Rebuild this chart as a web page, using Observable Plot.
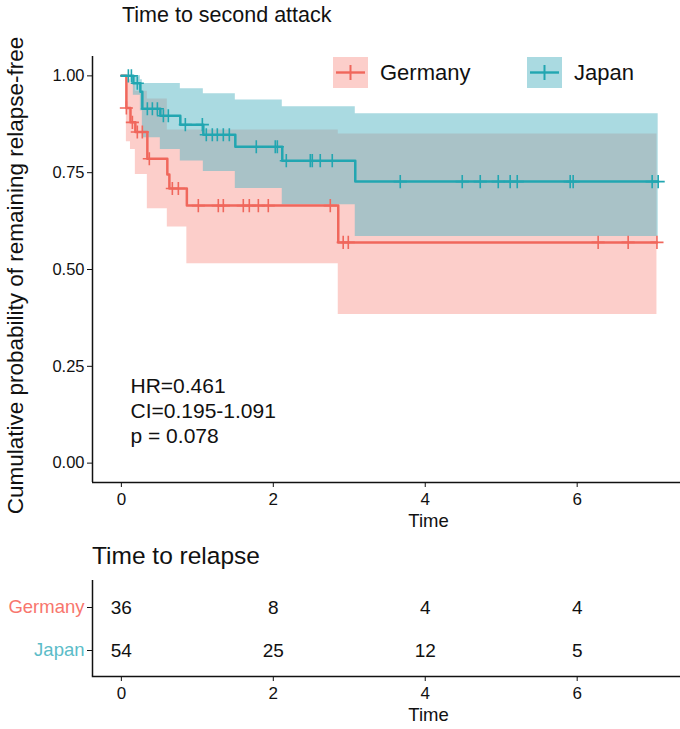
<!DOCTYPE html>
<html>
<head>
<meta charset="utf-8">
<script src="https://cdn.jsdelivr.net/npm/d3@7"></script>
<script src="https://cdn.jsdelivr.net/npm/@observablehq/plot@0.6"></script>
<style>
  html, body { margin: 0; padding: 0; background: #fff; }
  #wrap { position: relative; width: 680px; height: 729px; background: #fff; font-family: "Liberation Sans", Arial, sans-serif; color: #111; overflow: hidden; }
  .title { position: absolute; white-space: nowrap; }
  .legend { position: absolute; display: flex; align-items: center; font-size: 22px; }
  .legend svg { margin-right: 12px; }
  #main { position: absolute; left: 0; top: 30px; }
  #risk { position: absolute; left: 0; top: 578px; }
</style>
</head>
<body>
<div id="wrap">
  <div class="title" style="left:122px; top:3px; font-size:21.5px;">Time to second attack</div>
  <div id="main"></div>
  <div class="title" style="left:92px; top:542px; font-size:24.5px;">Time to relapse</div>
  <div id="risk"></div>
  <div id="legend"></div>
</div>
<script>
// ---- data ----
const groups = ["Germany", "Japan"];
const groupColors = ["#F0675C", "#22A6B1"];
const bandColors = ["#F8766D", "#55B5C3"];
const bandOpacity = [0.36, 0.5];
const labelColors = ["#F8766D", "#5BBCC8"];

const germanyTime  = [0, 0.066, 0.12, 0.184, 0.342, 0.605, 0.632, 0.862, 2.855, 7.05];
const germanySurv  = [1, 0.917, 0.88, 0.855, 0.786, 0.745, 0.709, 0.665, 0.57, 0.57];
const germanyLower = [1, 0.83, 0.81, 0.745, 0.657, 0.61, 0.61, 0.515, 0.384, 0.384];
const germanyUpper = [1, 0.99, 0.98, 0.96, 0.94, 0.86, 0.86, 0.86, 0.85, 0.85];
const germanyCensor = [0.066, 0.145, 0.21, 0.276, 0.368, 0.671, 0.75, 1.013, 1.276, 1.342, 1.605, 1.684, 1.803, 1.934, 2.75, 2.92, 2.987, 6.276, 6.671, 7.05];

const japanTime  = [0, 0.158, 0.25, 0.276, 0.513, 0.776, 1.079, 1.5, 2.118, 3.079, 7.066];
const japanSurv  = [1, 0.981, 0.959, 0.915, 0.897, 0.874, 0.848, 0.817, 0.781, 0.727, 0.727];
const japanLower = [1, 0.95, 0.91, 0.84, 0.81, 0.78, 0.753, 0.709, 0.667, 0.585, 0.585];
const japanUpper = [1, 1.0, 0.99, 0.98, 0.98, 0.967, 0.954, 0.938, 0.92, 0.902, 0.902];
const japanCensor = [0.092, 0.132, 0.21, 0.342, 0.408, 0.474, 0.553, 0.618, 0.842, 1.066, 1.118, 1.197, 1.263, 1.342, 1.421, 1.776, 2.026, 2.053, 2.171, 2.487, 2.513, 2.618, 2.776, 3.671, 4.487, 4.724, 4.961, 5.118, 5.211, 5.908, 5.947, 6.987, 7.066];

const statLines = ["HR=0.461", "CI=0.195-1.091", "p = 0.078"];

const riskTimes = [0, 2, 4, 6];
const germanyRisk = [36, 8, 4, 4];
const japanRisk = [54, 25, 12, 5];

const xTicks = [0, 2, 4, 6];
const yTicks = [0, 0.25, 0.5, 0.75, 1];
const xDomain = [-0.38, 7.36];
const yDomain = [-0.05, 1.05];

// ---- build tables ----
function steps(t, s, lo, hi) { return t.map((d, i) => ({t: d, s: s[i], lo: lo[i], hi: hi[i]})); }
const germany = steps(germanyTime, germanySurv, germanyLower, germanyUpper);
const japan = steps(japanTime, japanSurv, japanLower, japanUpper);
function survAt(tab, t) { let v = tab[0].s; for (const r of tab) if (r.t <= t) v = r.s; return v; }
const gCens = germanyCensor.map(t => ({t, s: survAt(germany, t)}));
const jCens = japanCensor.map(t => ({t, s: survAt(japan, t)}));

const font = '"Liberation Sans", Arial, sans-serif';

const main = Plot.plot({
  width: 680, height: 500,
  marginLeft: 92, marginRight: 0, marginTop: 26, marginBottom: 48,
  style: {fontFamily: font, fontSize: "16px", color: "#111", background: "transparent"},
  x: {domain: xDomain},
  y: {domain: yDomain},
  marks: [
    Plot.areaY(germany, {x: "t", y1: "lo", y2: "hi", curve: "step-after", fill: bandColors[0], fillOpacity: bandOpacity[0]}),
    Plot.areaY(japan, {x: "t", y1: "lo", y2: "hi", curve: "step-after", fill: bandColors[1], fillOpacity: bandOpacity[1]}),
    Plot.line(germany, {x: "t", y: "s", curve: "step-after", stroke: groupColors[0], strokeWidth: 2.5}),
    Plot.line(japan, {x: "t", y: "s", curve: "step-after", stroke: groupColors[1], strokeWidth: 2.5}),
    Plot.dot(gCens, {x: "t", y: "s", symbol: "plus", r: 4.3, stroke: groupColors[0], strokeWidth: 1.6}),
    Plot.dot(jCens, {x: "t", y: "s", symbol: "plus", r: 4.3, stroke: groupColors[1], strokeWidth: 1.6}),
    Plot.ruleX([xDomain[0]], {stroke: "#111", strokeWidth: 1.5}),
    Plot.ruleY([yDomain[0]], {stroke: "#111", strokeWidth: 1.5}),
    Plot.axisY({ticks: yTicks, tickFormat: d3.format(".2f"), tickSize: 5, tickPadding: 3, label: null, fontSize: 16.5, stroke: "#111", fill: "#111"}),
    Plot.axisX({ticks: xTicks, tickFormat: d => String(d), tickSize: 5, tickPadding: 5, label: null, fontSize: 17, stroke: "#111", fill: "#111"}),
    Plot.text(["Time"], {frameAnchor: "bottom", dx: 42, dy: 44, fontSize: 18.5, fill: "#111"}),
    Plot.text(["Cumulative probability of remaining relapse-free"], {frameAnchor: "left", textAnchor: "middle", dx: -77, dy: 6, rotate: -90, fontSize: 22.5, fill: "#111"}),
    Plot.text([statLines.join("\n")], {frameAnchor: "bottom-left", lineAnchor: "bottom", dx: 38, dy: -40, lineHeight: 1.19, textAnchor: "start", fontSize: 21, fill: "#111"})
  ]
});
document.getElementById("main").appendChild(main);

// ---- risk table ----
const riskRows = [];
riskTimes.forEach((t, i) => {
  riskRows.push({time: t, group: groups[0], n: germanyRisk[i]});
  riskRows.push({time: t, group: groups[1], n: japanRisk[i]});
});
const rowLabels = groups.map((g, i) => ({group: g, color: labelColors[i]}));

const risk = Plot.plot({
  width: 680, height: 151,
  marginLeft: 92, marginRight: 0, marginTop: 2, marginBottom: 53,
  style: {fontFamily: font, fontSize: "16px", color: "#111", background: "transparent"},
  x: {domain: xDomain},
  y: {type: "point", domain: groups, padding: 0.6},
  marks: [
    Plot.text(riskRows, {x: "time", y: "group", text: d => String(d.n), fontSize: 19, fill: "#111"}),
    Plot.ruleX([xDomain[0]], {stroke: "#111", strokeWidth: 1.5}),
    Plot.axisY({tickFormat: () => "", tickSize: 5, label: null, stroke: "#111"}),
    Plot.text(rowLabels, {y: "group", frameAnchor: "left", dx: -8, textAnchor: "end", text: "group", fill: "color", fontSize: 18.5}),
    Plot.axisX({ticks: xTicks, tickFormat: d => String(d), tickSize: 5, tickPadding: 5, label: null, fontSize: 17, stroke: "#111", fill: "#111"}),
    Plot.frame({anchor: "bottom", stroke: "#111", strokeWidth: 1.5}),
    Plot.text(["Time"], {frameAnchor: "bottom", dx: 42, dy: 44, fontSize: 18.5, fill: "#111"})
  ]
});
document.getElementById("risk").appendChild(risk);

// ---- legend ----
const legendPos = [{left: 333, top: 57}, {left: 527, top: 57}];
const legend = document.getElementById("legend");
groups.forEach((g, i) => {
  const div = document.createElement("div");
  div.className = "legend";
  div.style.left = legendPos[i].left + "px";
  div.style.top = legendPos[i].top + "px";
  div.innerHTML = `<svg width="35" height="31"><rect width="35" height="31" fill="${bandColors[i]}" fill-opacity="${bandOpacity[i]}"/>
    <line x1="3" x2="32" y1="15.5" y2="15.5" stroke="${groupColors[i]}" stroke-width="2.4"/>
    <line x1="17.5" x2="17.5" y1="8" y2="23" stroke="${groupColors[i]}" stroke-width="2"/></svg><span>${g}</span>`;
  legend.appendChild(div);
});
</script>
</body>
</html>
